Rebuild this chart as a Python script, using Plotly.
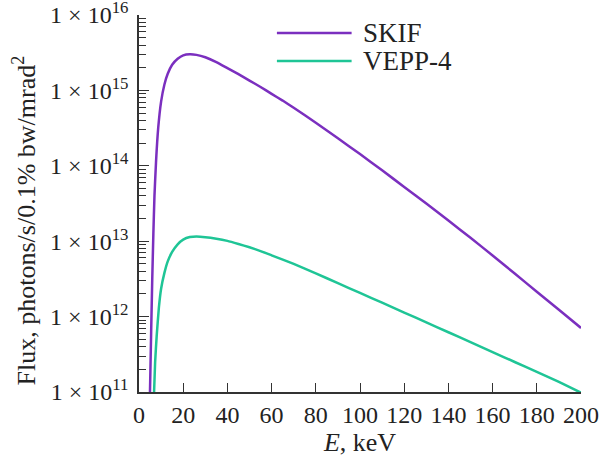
import plotly.graph_objects as go

# SKIF spectrum (E in keV, flux in photons/s/0.1% bw/mrad^2)
skif_E = [4.9, 5.5, 6.0, 6.5, 7.0, 7.7, 8.7, 10.0, 11.5, 13.0, 15.0, 17.5, 20.0, 23.0,
          26.0, 30.0, 35.0, 40.0, 45.0, 50.0, 55.0, 60.0, 65.0, 70.0, 80.0, 90.0, 100.0,
          110.0, 120.0, 130.0, 140.0, 150.0, 160.0, 170.0, 180.0, 190.0, 200.0]
skif_flux = [7.9e10, 6.3e11, 3.2e12, 1.26e13, 4.0e13, 1.12e14, 3.2e14, 7.1e14, 1.2e15,
             1.66e15, 2.19e15, 2.63e15, 2.92e15, 3.02e15, 2.96e15, 2.75e15, 2.37e15,
             1.97e15, 1.64e15, 1.35e15, 1.11e15, 9.0e14, 7.33e14, 5.89e14, 3.72e14,
             2.32e14, 1.43e14, 8.7e13, 5.25e13, 3.16e13, 1.88e13, 1.11e13, 6.46e12,
             3.72e12, 2.14e12, 1.23e12, 7.08e11]

# VEPP-4 spectrum
vepp_E = [6.7, 7.3, 8.0, 9.0, 10.0, 11.5, 13.0, 15.0, 17.5, 20.0, 23.0, 26.0, 30.0, 35.0,
          40.0, 45.0, 50.0, 55.0, 60.0, 70.0, 80.0, 90.0, 100.0, 110.0, 120.0, 130.0,
          140.0, 150.0, 160.0, 170.0, 180.0, 190.0, 200.0]
vepp_flux = [7.9e10, 2.5e11, 5.5e11, 1.32e12, 2.34e12, 3.8e12, 5.4e12, 7.2e12, 9.1e12,
             1.05e13, 1.135e13, 1.15e13, 1.13e13, 1.08e13, 1.01e13, 9.2e12, 8.3e12,
             7.4e12, 6.5e12, 4.99e12, 3.74e12, 2.78e12, 2.06e12, 1.53e12, 1.13e12,
             8.4e11, 6.2e11, 4.6e11, 3.39e11, 2.5e11, 1.85e11, 1.36e11, 9.8e10]

series_names = ["SKIF", "VEPP-4"]
series_colors = ["#7b2fbf", "#1fc596"]

y_tickvals = [1e11, 1e12, 1e13, 1e14, 1e15, 1e16]
y_ticktext = ["1 × 10<sup>%d</sup>" % p for p in range(11, 17)]
x_tickvals = list(range(0, 201, 20))
y_title = "Flux, photons/s/0.1% bw/mrad<sup>2</sup>"
x_title = "<i>E</i>, keV"

FONT = "Liberation Serif"

fig = go.Figure()
for E, F, name, col in [(skif_E, skif_flux, series_names[0], series_colors[0]),
                        (vepp_E, vepp_flux, series_names[1], series_colors[1])]:
    fig.add_trace(go.Scatter(x=E, y=F, mode="lines", name=name, showlegend=False,
                             line=dict(color=col, width=2.5, shape="spline", smoothing=0.5)))

minor_vals = [m * 10 ** p for p in range(11, 16) for m in range(2, 10)]

fig.update_layout(
    width=609, height=460,
    margin=dict(l=139, r=28, t=15, b=68),
    paper_bgcolor="white", plot_bgcolor="white",
    font=dict(family=FONT, color="#222", size=23),
    xaxis=dict(range=[0, 200], tickvals=x_tickvals, showline=True, linecolor="#333",
               linewidth=1.5, ticks="inside", ticklen=9, tickwidth=1.3, tickcolor="#333",
               showgrid=False, zeroline=False, tickfont=dict(size=24), automargin=False,
               ticklabeloverflow="allow",
               title=dict(text=x_title, font=dict(size=26), standoff=0)),
    yaxis=dict(type="log", range=[11, 16], tickvals=y_tickvals, ticktext=y_ticktext,
               showline=True, linecolor="#333", linewidth=1.5, ticks="inside",
               ticklen=10, tickwidth=1.3, tickcolor="#333", showgrid=False,
               zeroline=False, tickfont=dict(size=24), automargin=False,
               ticklabeloverflow="allow", ticklabelstandoff=4,
               minor=dict(tickvals=minor_vals, ticks="inside", ticklen=7,
                          tickwidth=1.2, tickcolor="#333", showgrid=False)),
)

# y-axis title placed as a rotated annotation (slightly below plot centre, as in the reference)
fig.add_annotation(xref="paper", yref="paper", x=-0.258, y=0.455, text=y_title,
                   textangle=-90, showarrow=False, xanchor="center", yanchor="middle",
                   font=dict(size=26, family=FONT, color="#222"))

# manual legend
leg_y = [0.952, 0.878]
for i in range(2):
    fig.add_shape(type="line", xref="paper", yref="paper", x0=0.312, x1=0.481,
                  y0=leg_y[i], y1=leg_y[i], line=dict(color=series_colors[i], width=2.5))
    fig.add_annotation(xref="paper", yref="paper", x=0.503, y=leg_y[i], text=series_names[i],
                       showarrow=False, xanchor="left", yanchor="middle",
                       font=dict(size=27, family=FONT, color="#222"))

fig.write_html("out.html", config={"displayModeBar": False},
               post_script="document.body.style.margin='0';")
